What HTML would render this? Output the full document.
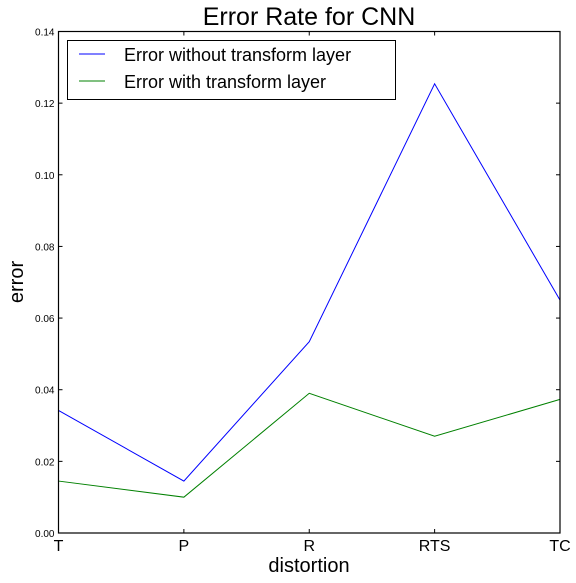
<!DOCTYPE html>
<html><head><meta charset="utf-8"><style>
body{margin:0;background:#fff;}
svg{display:block;font-family:"Liberation Sans","DejaVu Sans",sans-serif;}
</style></head><body>
<svg id="c" width="576" height="583">
<rect width="576" height="583" fill="#fff"/>
<text x="309" y="25" font-size="25" text-anchor="middle">Error Rate for CNN</text>
<text x="309" y="572" font-size="20" text-anchor="middle">distortion</text>
<text transform="translate(23,282) rotate(-90)" font-size="20" text-anchor="middle">error</text>
<g id="ticks"></g>
<g id="lines"></g>
<rect x="58.5" y="31.5" width="501.5" height="501.5" fill="none" stroke="#000" stroke-width="1.2"/>
<g>
<rect x="67.5" y="40.5" width="328" height="59" fill="#fff" stroke="#000" stroke-width="1"/>
<line x1="79" y1="54" x2="105" y2="54" stroke="#0000ff"/>
<text x="124" y="61" font-size="18">Error without transform layer</text>
<line x1="79" y1="81" x2="105" y2="81" stroke="#008000"/>
<text x="124" y="88" font-size="18">Error with transform layer</text>
</g>
</svg>
<script>
const categories=["T","P","R","RTS","TC"];
const errorWithout=[0.0342,0.0145,0.0534,0.1254,0.0650];
const errorWith=[0.0145,0.0100,0.0390,0.0270,0.0373];
const yTicks=[0,0.02,0.04,0.06,0.08,0.10,0.12,0.14];
const yTickLabels=["0.00","0.02","0.04","0.06","0.08","0.10","0.12","0.14"];
const L=58.5,R=560,T=31.5,B=533;
const NS="http://www.w3.org/2000/svg";
function xs(i){return L+(R-L)*i/(categories.length-1);}
function ys(v){return B-(B-T)*v/0.14;}
const tg=document.getElementById('ticks'),lg=document.getElementById('lines');
function mk(t,a,p){const e=document.createElementNS(NS,t);for(const k in a)e.setAttribute(k,a[k]);p.appendChild(e);return e;}
yTicks.forEach((v,i)=>{
 const y=ys(v);
 const l1=mk('line',{x1:L,y1:y,x2:L+4,y2:y,stroke:'#000'},tg);
 
 
 mk('line',{x1:R-4,y1:y,x2:R,y2:y,stroke:'#000'},tg);
 const t=mk('text',{x:L-4,y:y+4,'font-size':'10','text-anchor':'end'},tg);
 t.textContent=yTickLabels[i];
 
 
});
categories.forEach((c,i)=>{
 const x=xs(i);
 mk('line',{x1:x,y1:B,x2:x,y2:B-4,stroke:'#000'},tg);
 mk('line',{x1:x,y1:T,x2:x,y2:T+4,stroke:'#000'},tg);
 const t=mk('text',{x:x,y:B+18,'font-size':'16','text-anchor':'middle'},tg);
 t.textContent=c;
 
 
});
function line(vals,col,name){
 const p=mk('polyline',{points:vals.map((v,i)=>xs(i)+','+ys(v)).join(' '),fill:'none',stroke:col,'stroke-width':'1'},lg);
 
 
}
line(errorWithout,'#0000ff','line-error-without-transform');
line(errorWith,'#008000','line-error-with-transform');
</script>
</body></html>
